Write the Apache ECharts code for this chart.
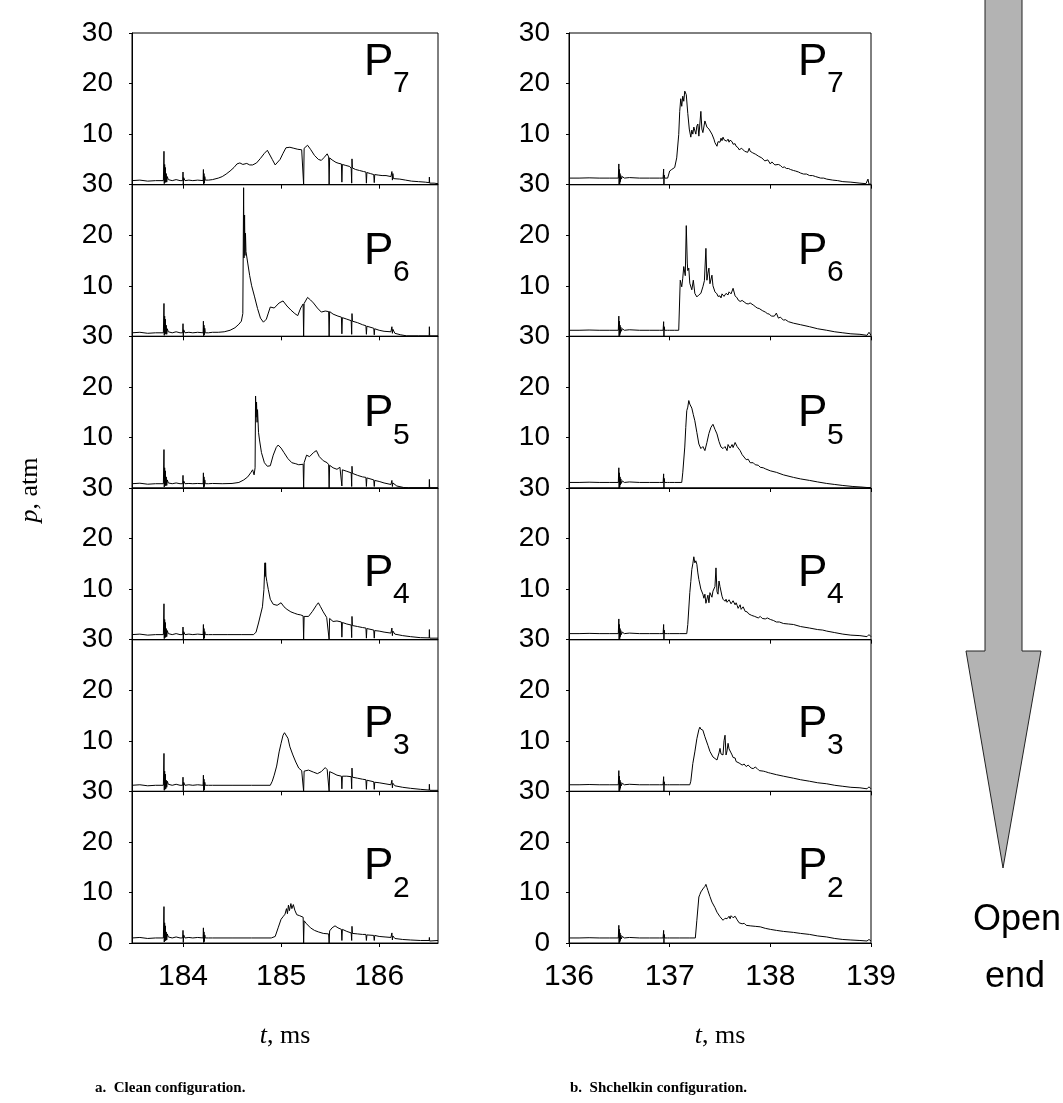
<!DOCTYPE html>
<html>
<head>
<meta charset="utf-8">
<script src="https://cdn.jsdelivr.net/npm/echarts@6/dist/echarts.min.js"></script>
<style>
  html, body { margin: 0; padding: 0; background: #fff; }
  #chart { width: 1063px; height: 1103px; }
</style>
</head>
<body>
<div id="chart"></div>
<script>
// pressure traces, [t (ms), p (atm)]
// a. clean configuration
const cleanP7 = [[183.48,0.8],[183.56,0.9],[183.64,0.7],[183.72,0.8],[183.80,0.8],[183.806,6.6],[183.809,0.2],[183.813,4],[183.816,0.4],[183.82,3.4],[183.824,0.5],[183.829,2.2],[183.834,0.5],[183.84,1.6],[183.85,1.0],[183.87,1.3],[183.89,0.8],[183.93,1.0],[183.97,0.8],[183.997,0.8],[184.0,2.5],[184.003,0.1],[184.007,1.4],[184.02,0.8],[184.06,0.9],[184.10,0.8],[184.15,0.9],[184.205,0.8],[184.208,3.0],[184.211,0.1],[184.214,2.2],[184.218,0.3],[184.222,1.6],[184.227,0.9],[184.26,0.9],
  [184.30,1.0],[184.36,1.3],[184.40,1.6],[184.44,2.1],[184.48,2.7],[184.52,3.4],[184.55,4.1],[184.58,4.3],[184.61,4.0],[184.65,4.2],[184.68,3.9],[184.71,3.9],[184.75,4.3],[184.79,5.2],[184.83,6.2],[184.86,6.8],[184.88,6.5],[184.91,5.0],[184.94,3.9],[184.96,4.0],[184.99,5.0],[185.02,6.2],[185.05,7.3],[185.09,7.4],[185.13,7.2],[185.17,7.0],[185.21,6.9],[185.225,6.8],[185.23,0],[185.235,7.2],[185.27,7.8],[185.30,7.0],[185.34,5.8],[185.38,5.0],[185.41,4.8],[185.44,5.4],[185.47,6.1],[185.485,5.5],[185.49,0],[185.495,5.3],[185.52,4.9],[185.56,4.4],[185.59,4.2],[185.615,4.1],[185.62,0.5],[185.625,4.0],[185.66,3.8],[185.70,3.6],[185.715,3.2],[185.72,0.3],[185.723,5.1],[185.727,3.3],[185.76,3.0],[185.80,2.8],[185.84,2.6],[185.865,2.5],[185.87,0.3],[185.875,2.4],[185.91,2.2],[185.945,2.0],[185.95,0.4],[185.955,2.0],[185.99,1.9],[186.03,1.8],[186.07,1.8],[186.12,1.6],[186.13,2.6],[186.135,0.9],[186.14,2.2],[186.145,1.2],[186.16,1.3],[186.21,1.1],[186.27,0.9],[186.33,0.7],[186.40,0.6],[186.47,0.5],[186.51,0.4],[186.512,1.5],[186.515,0.3],[186.56,0.3],[186.6,0.2]];
const cleanP6 = [[183.48,0.7],[183.56,0.8],[183.64,0.6],[183.72,0.7],[183.80,0.7],[183.806,6.5],[183.809,0.2],[183.813,4],[183.816,0.4],[183.82,3.4],[183.824,0.5],[183.829,2.2],[183.834,0.4],[183.84,1.5],[183.85,0.9],[183.87,1.2],[183.89,0.7],[183.93,0.9],[183.97,0.7],[183.997,0.7],[184.0,2.5],[184.003,0.1],[184.007,1.3],[184.02,0.7],[184.06,0.8],[184.10,0.7],[184.15,0.8],[184.205,0.7],[184.208,3.0],[184.211,0.1],[184.214,2.2],[184.218,0.3],[184.222,1.6],[184.227,0.7],[184.26,0.7],
  [184.30,0.8],[184.36,0.8],[184.42,0.9],[184.48,1.2],[184.53,1.7],[184.57,2.4],[184.595,3.0],[184.61,4.5],[184.618,29.4],[184.622,15.5],[184.628,24],[184.632,16],[184.637,20.4],[184.642,16.8],[184.65,17.0],[184.66,14.5],[184.68,12.0],[184.70,10.0],[184.73,7.8],[184.76,5.5],[184.79,3.6],[184.82,2.8],[184.85,3.4],[184.87,4.6],[184.89,5.8],[184.91,6.0],[184.93,5.6],[184.95,5.9],[184.98,6.6],[185.02,7.0],[185.06,6.0],[185.10,5.2],[185.14,4.5],[185.17,4.1],[185.20,5.6],[185.225,6.4],[185.23,0],[185.235,6.5],[185.27,7.7],[185.30,7.2],[185.33,6.6],[185.37,5.6],[185.41,4.8],[185.45,5.0],[185.485,4.9],[185.49,0],[185.495,4.9],[185.53,4.4],[185.58,4.0],[185.615,3.8],[185.62,0.5],[185.625,3.7],[185.67,3.4],[185.715,3.1],[185.72,0.4],[185.723,4.5],[185.727,3.0],[185.78,2.7],[185.83,2.3],[185.865,2.1],[185.87,0.4],[185.875,2.0],[185.945,1.6],[185.95,0.3],[185.955,1.5],[186.0,1.2],[186.05,1.0],[186.12,0.9],[186.13,1.9],[186.135,0.6],[186.14,1.4],[186.16,0.6],[186.22,0.3],[186.28,0.1],[186.40,0.1],[186.51,0.1],[186.512,1.9],[186.515,0.1],[186.6,0.1]];
const cleanP5 = [[183.48,0.85],[183.56,0.95],[183.64,0.75],[183.72,0.85],[183.80,0.85],[183.806,7.6],[183.809,0.2],[183.813,4],[183.816,0.4],[183.82,3.4],[183.824,0.5],[183.829,2.2],[183.834,0.5],[183.84,1.6],[183.85,1.0],[183.87,1.3],[183.89,0.85],[183.93,1.0],[183.97,0.85],[183.997,0.85],[184.0,2.5],[184.003,0.1],[184.007,1.4],[184.02,0.85],[184.06,0.9],[184.10,0.85],[184.15,0.9],[184.205,0.85],[184.208,3.0],[184.211,0.1],[184.214,2.2],[184.218,0.3],[184.222,1.6],[184.227,0.85],[184.26,0.85],
  [184.30,0.9],[184.40,0.85],[184.50,0.9],[184.57,1.1],[184.62,1.6],[184.66,2.2],[184.69,3.0],[184.71,3.6],[184.725,2.6],[184.735,4.0],[184.74,18.2],[184.745,14],[184.75,17.0],[184.755,13.0],[184.76,15.5],[184.77,11.0],[184.78,9.5],[184.80,7.0],[184.83,5.0],[184.86,4.3],[184.89,4.4],[184.92,6.5],[184.95,8.0],[184.97,8.5],[185.00,7.9],[185.03,7.0],[185.07,5.8],[185.11,5.0],[185.15,4.8],[185.18,4.6],[185.225,4.7],[185.23,0],[185.235,5.0],[185.26,6.5],[185.29,6.2],[185.33,7.0],[185.36,7.4],[185.39,6.2],[185.43,5.4],[185.47,5.0],[185.485,4.6],[185.49,0],[185.495,4.5],[185.53,4.0],[185.57,3.7],[185.60,4.1],[185.615,3.8],[185.62,0.4],[185.625,3.6],[185.67,3.3],[185.715,3.0],[185.72,0.3],[185.723,4.3],[185.727,2.9],[185.78,2.5],[185.83,2.2],[185.865,2.1],[185.87,0.3],[185.875,2.0],[185.945,1.6],[185.95,0.3],[185.955,1.5],[186.0,1.3],[186.05,1.0],[186.12,0.7],[186.13,1.5],[186.135,0.3],[186.14,1.0],[186.18,0.4],[186.25,0.1],[186.30,0.05],[186.51,0.05],[186.512,1.7],[186.515,0.05],[186.6,0.05]];
const cleanP4 = [[183.48,1.0],[183.56,1.1],[183.64,0.9],[183.72,1.0],[183.80,1.0],[183.806,7.1],[183.809,0.2],[183.813,4],[183.816,0.4],[183.82,3.4],[183.824,0.5],[183.829,2.2],[183.834,0.6],[183.84,1.8],[183.85,1.2],[183.87,1.5],[183.89,1.0],[183.93,1.2],[183.97,1.0],[183.997,1.0],[184.0,2.5],[184.003,0.1],[184.007,1.6],[184.02,1.0],[184.06,1.1],[184.10,1.0],[184.15,1.1],[184.205,1.0],[184.208,3.0],[184.211,0.1],[184.214,2.2],[184.218,0.3],[184.222,1.6],[184.227,1.0],[184.26,1.0],
  [184.30,1.0],[184.45,1.0],[184.60,1.0],[184.72,1.0],[184.745,1.5],[184.77,3.3],[184.79,3.6],[184.81,6.5],[184.825,9.9],[184.835,15.2],[184.838,12.5],[184.842,15.2],[184.846,12.6],[184.855,11.5],[184.87,9.9],[184.89,8.0],[184.92,7.0],[184.96,6.8],[185.00,7.3],[185.03,6.5],[185.06,6.0],[185.10,5.5],[185.14,5.2],[185.17,5.0],[185.20,4.9],[185.225,4.7],[185.23,0],[185.235,4.6],[185.28,4.6],[185.32,5.6],[185.36,6.8],[185.38,7.3],[185.40,6.6],[185.43,5.5],[185.465,4.4],[185.485,4.3],[185.49,0],[185.495,4.2],[185.53,3.6],[185.57,3.7],[185.615,3.5],[185.62,0.5],[185.625,3.4],[185.67,3.1],[185.715,2.9],[185.72,0.4],[185.723,4.6],[185.727,2.8],[185.78,2.6],[185.83,2.4],[185.865,2.3],[185.87,0.3],[185.875,2.2],[185.945,1.9],[185.95,0.3],[185.955,1.8],[186.0,1.7],[186.05,1.5],[186.12,1.3],[186.13,2.3],[186.135,0.8],[186.14,1.7],[186.16,1.1],[186.24,0.8],[186.32,0.6],[186.42,0.4],[186.51,0.35],[186.512,2.0],[186.515,0.3],[186.6,0.3]];
const cleanP3 = [[183.48,1.2],[183.56,1.3],[183.64,1.1],[183.72,1.2],[183.80,1.2],[183.806,7.5],[183.809,0.2],[183.813,4],[183.816,0.4],[183.82,3.4],[183.824,0.5],[183.829,2.2],[183.834,0.8],[183.84,2.0],[183.85,1.4],[183.87,1.7],[183.89,1.2],[183.93,1.4],[183.97,1.2],[183.997,1.2],[184.0,2.8],[184.003,0.1],[184.007,1.8],[184.02,1.2],[184.06,1.3],[184.10,1.2],[184.15,1.3],[184.205,1.2],[184.208,3.2],[184.211,0.1],[184.214,2.4],[184.218,0.3],[184.222,1.8],[184.227,1.2],[184.26,1.2],
  [184.30,1.2],[184.50,1.2],[184.70,1.2],[184.89,1.2],[184.91,2.0],[184.93,3.2],[184.955,5.0],[184.98,7.8],[185.00,9.5],[185.02,11.1],[185.035,11.6],[185.05,11.4],[185.07,10.5],[185.09,8.8],[185.12,7.2],[185.15,5.8],[185.18,4.6],[185.21,4.1],[185.225,3.9],[185.23,0],[185.235,4.0],[185.28,4.2],[185.33,3.8],[185.37,3.5],[185.41,3.9],[185.45,4.7],[185.47,4.3],[185.485,4.0],[185.49,0],[185.495,3.9],[185.53,3.6],[185.57,3.2],[185.615,3.0],[185.62,0.5],[185.625,3.0],[185.67,3.0],[185.715,2.9],[185.72,0.5],[185.723,4.6],[185.727,2.8],[185.78,2.6],[185.83,2.4],[185.865,2.3],[185.87,0.4],[185.875,2.2],[185.945,1.9],[185.95,0.4],[185.955,1.8],[186.0,1.7],[186.06,1.5],[186.12,1.3],[186.13,2.2],[186.135,0.7],[186.14,1.6],[186.16,1.1],[186.24,0.8],[186.32,0.6],[186.42,0.4],[186.51,0.25],[186.512,1.4],[186.515,0.2],[186.6,0.2]];
const cleanP2 = [[183.48,1.0],[183.56,1.1],[183.64,0.9],[183.72,1.0],[183.80,1.0],[183.806,7.2],[183.809,0.2],[183.813,4],[183.816,0.4],[183.82,3.4],[183.824,0.5],[183.829,2.2],[183.834,0.6],[183.84,1.8],[183.85,1.2],[183.87,1.5],[183.89,1.0],[183.93,1.2],[183.97,1.0],[183.997,1.0],[184.0,2.5],[184.003,0.1],[184.007,1.6],[184.02,1.0],[184.06,1.1],[184.10,1.0],[184.15,1.1],[184.205,1.0],[184.208,3.0],[184.211,0.1],[184.214,2.2],[184.218,0.3],[184.222,1.6],[184.227,1.0],[184.26,1.0],
  [184.30,1.0],[184.50,1.0],[184.70,1.0],[184.90,1.0],[184.94,1.3],[184.97,3.0],[185.00,4.7],[185.02,5.2],[185.04,5.7],[185.055,6.8],[185.065,5.8],[185.075,7.5],[185.085,6.4],[185.10,7.8],[185.11,6.8],[185.125,7.6],[185.14,6.5],[185.16,5.6],[185.19,5.4],[185.225,5.1],[185.23,0],[185.235,4.4],[185.26,3.8],[185.30,3.0],[185.34,2.5],[185.38,2.2],[185.43,1.9],[185.485,1.8],[185.49,0],[185.495,2.4],[185.52,3.0],[185.55,3.4],[185.58,3.0],[185.615,2.7],[185.62,0.5],[185.625,2.7],[185.67,2.3],[185.715,2.0],[185.72,0.5],[185.723,3.3],[185.727,1.9],[185.78,1.8],[185.83,1.7],[185.865,1.7],[185.87,0.5],[185.875,1.6],[185.945,1.5],[185.95,0.5],[185.955,1.5],[186.0,1.3],[186.06,1.2],[186.12,1.1],[186.13,2.0],[186.135,0.6],[186.14,1.4],[186.16,0.9],[186.24,0.7],[186.32,0.6],[186.42,0.5],[186.51,0.5],[186.512,1.1],[186.515,0.4],[186.6,0.5]];

// b. Shchelkin configuration
const shchP7 = [[136,1.3],[136.1,1.3],[136.2,1.35],[136.3,1.3],[136.4,1.3],[136.49,1.3],[136.495,4.1],[136.498,0],[136.501,3],[136.504,0.2],[136.507,2.2],[136.51,0.6],[136.515,1.8],[136.52,1.1],[136.53,1.6],[136.55,1.3],[136.6,1.4],[136.7,1.3],[136.8,1.3],[136.9,1.3],[136.935,1.3],[136.94,3.1],[136.943,0],[136.946,1.9],[136.95,1.3],[136.98,1.3],
  [136.99,1.5],[137.00,2.7],[137.02,3.0],[137.05,3.4],[137.07,5.3],[137.09,9.9],[137.10,14.5],[137.11,17.0],[137.12,15.5],[137.13,17.5],[137.14,16.5],[137.15,18.5],[137.165,17.8],[137.18,14.1],[137.195,11.0],[137.21,9.4],[137.22,10.8],[137.23,10.0],[137.24,11.4],[137.26,10.0],[137.27,11.6],[137.28,12.0],[137.29,9.6],[137.31,14.5],[137.32,11.0],[137.33,10.3],[137.35,12.6],[137.37,11.4],[137.39,11.0],[137.42,10.0],[137.44,9.0],[137.45,8.3],[137.46,8.1],[137.47,7.6],[137.48,8.5],[137.49,8.8],[137.50,8.4],[137.51,9.2],[137.52,8.7],[137.53,9.4],[137.54,8.9],[137.55,9.0],[137.565,8.6],[137.58,9.0],[137.59,8.4],[137.60,8.8],[137.62,8.5],[137.63,8.0],[137.65,8.1],[137.66,7.6],[137.68,7.3],[137.69,6.9],[137.70,6.8],[137.715,7.2],[137.73,7.0],[137.745,6.6],[137.76,6.8],[137.775,6.4],[137.79,7.2],[137.80,6.6],[137.81,6.9],[137.825,6.3],[137.84,6.3],[137.855,6.0],[137.87,6.1],[137.885,5.6],[137.90,5.8],[137.915,5.3],[137.93,5.2],[137.945,4.7],[137.96,4.6],[137.975,4.9],[138.00,4.1],[138.015,4.5],[138.03,4.4],[138.045,3.9],[138.06,3.9],[138.08,4.0],[138.10,3.8],[138.12,3.4],[138.14,3.5],[138.16,3.2],[138.18,3.2],[138.20,3.0],[138.23,2.8],[138.25,2.7],[138.28,2.5],[138.30,2.3],[138.33,2.1],[138.36,2.1],[138.39,1.8],[138.42,1.8],[138.45,1.6],[138.50,1.3],[138.53,1.3],[138.56,1.1],[138.62,0.9],[138.67,0.8],[138.72,0.6],[138.80,0.5],[138.89,0.3],[138.95,0.2],[138.97,1.1],[138.98,0.1],[139.0,0.1]];
const shchP6 = [[136,1.2],[136.1,1.2],[136.2,1.25],[136.3,1.2],[136.4,1.2],[136.49,1.2],[136.495,4.0],[136.498,0],[136.501,3],[136.504,0.2],[136.507,2.2],[136.51,0.6],[136.515,1.8],[136.52,1.0],[136.53,1.5],[136.55,1.2],[136.6,1.3],[136.7,1.2],[136.8,1.2],[136.9,1.2],[136.935,1.2],[136.94,2.9],[136.943,0],[136.946,1.9],[136.95,1.2],[136.98,1.2],
  [137.00,1.2],[137.05,1.2],[137.09,1.2],[137.10,1.3],[137.105,11.1],[137.12,9.8],[137.13,11.5],[137.14,13.8],[137.155,12.0],[137.165,21.9],[137.175,14.5],[137.18,13.0],[137.19,13.5],[137.20,10.5],[137.22,9.2],[137.235,11.1],[137.25,8.5],[137.27,7.8],[137.29,8.2],[137.31,8.5],[137.33,9.8],[137.345,11.0],[137.36,17.4],[137.37,11.1],[137.38,12.5],[137.39,13.5],[137.40,10.4],[137.42,12.1],[137.43,10.0],[137.45,8.8],[137.47,8.4],[137.48,7.9],[137.50,8.0],[137.51,7.6],[137.52,8.4],[137.54,7.9],[137.56,8.5],[137.58,8.2],[137.59,8.8],[137.61,8.4],[137.63,9.5],[137.65,8.0],[137.67,7.6],[137.68,7.2],[137.70,6.9],[137.72,7.1],[137.74,6.8],[137.76,6.5],[137.78,6.4],[137.80,6.6],[137.83,6.2],[137.85,5.9],[137.87,5.6],[137.89,5.5],[137.90,5.2],[137.92,5.1],[137.93,4.9],[137.95,4.8],[137.97,4.5],[137.99,4.4],[138.01,4.0],[138.04,4.0],[138.06,4.6],[138.08,3.6],[138.10,3.8],[138.13,3.2],[138.15,3.3],[138.18,2.9],[138.23,2.6],[138.30,2.3],[138.39,1.9],[138.47,1.5],[138.56,1.2],[138.64,0.9],[138.72,0.7],[138.80,0.5],[138.89,0.4],[138.96,0.2],[138.98,0.8],[139.0,0.2]];
const shchP5 = [[136,1.1],[136.1,1.1],[136.2,1.15],[136.3,1.1],[136.4,1.1],[136.49,1.1],[136.495,4.0],[136.498,0],[136.501,3],[136.504,0.2],[136.507,2.2],[136.51,0.6],[136.515,1.8],[136.52,0.9],[136.53,1.4],[136.55,1.1],[136.6,1.2],[136.7,1.1],[136.8,1.1],[136.9,1.1],[136.935,1.1],[136.94,2.8],[136.943,0],[136.946,1.9],[136.95,1.1],[136.98,1.1],
  [137.00,1.1],[137.05,1.1],[137.12,1.1],[137.13,3.0],[137.15,8.1],[137.16,12.0],[137.17,15.3],[137.18,16.0],[137.19,17.3],[137.20,16.6],[137.21,16.8],[137.22,15.8],[137.235,14.5],[137.25,13.3],[137.27,11.0],[137.29,8.7],[137.31,7.8],[137.33,8.2],[137.35,7.4],[137.37,9.0],[137.39,10.8],[137.41,12.0],[137.43,12.6],[137.45,11.6],[137.47,10.7],[137.49,9.2],[137.51,8.1],[137.53,7.8],[137.55,8.2],[137.57,7.4],[137.58,8.6],[137.60,7.9],[137.62,8.6],[137.63,8.0],[137.65,9.0],[137.67,8.2],[137.70,7.4],[137.72,6.6],[137.73,6.8],[137.76,5.6],[137.78,5.7],[137.80,5.0],[137.83,5.0],[137.85,4.6],[137.88,4.5],[137.90,4.1],[137.93,4.0],[137.95,3.8],[138.00,3.4],[138.06,3.1],[138.13,2.6],[138.23,2.1],[138.30,1.8],[138.39,1.5],[138.47,1.2],[138.56,0.9],[138.64,0.7],[138.72,0.5],[138.82,0.3],[138.90,0.2],[138.96,0.1],[139.0,0.1]];
const shchP4 = [[136,1.2],[136.1,1.2],[136.2,1.25],[136.3,1.2],[136.4,1.2],[136.49,1.2],[136.495,4.1],[136.498,0],[136.501,3],[136.504,0.2],[136.507,2.2],[136.51,0.6],[136.515,1.8],[136.52,1.0],[136.53,1.5],[136.55,1.2],[136.6,1.3],[136.7,1.2],[136.8,1.2],[136.9,1.2],[136.935,1.2],[136.94,3.0],[136.943,0],[136.946,1.9],[136.95,1.2],[136.98,1.2],
  [137.00,1.2],[137.10,1.2],[137.17,1.2],[137.18,3.0],[137.20,9.3],[137.21,11.5],[137.22,13.9],[137.23,15.0],[137.24,16.4],[137.25,15.2],[137.26,15.6],[137.27,14.9],[137.28,13.2],[137.29,11.9],[137.31,10.0],[137.33,9.0],[137.34,8.2],[137.35,9.0],[137.36,7.2],[137.37,7.0],[137.38,8.8],[137.39,7.3],[137.40,9.3],[137.42,8.4],[137.43,9.6],[137.45,10.5],[137.46,14.2],[137.47,9.5],[137.48,9.0],[137.49,11.6],[137.50,10.5],[137.52,8.6],[137.53,8.0],[137.54,8.3],[137.55,7.6],[137.56,8.0],[137.57,7.4],[137.58,7.2],[137.59,7.9],[137.60,7.8],[137.61,7.1],[137.62,7.0],[137.63,7.7],[137.64,7.6],[137.65,6.9],[137.66,7.3],[137.67,6.8],[137.68,6.2],[137.69,6.3],[137.70,6.9],[137.71,6.0],[137.72,5.9],[137.73,6.5],[137.74,6.4],[137.75,5.6],[137.76,5.9],[137.77,5.5],[137.785,5.1],[137.80,5.2],[137.815,4.8],[137.83,5.0],[137.845,4.6],[137.86,4.6],[137.88,4.3],[137.90,4.6],[137.92,4.2],[137.95,4.1],[137.97,4.3],[138.00,4.0],[138.03,3.8],[138.06,3.5],[138.09,3.5],[138.13,3.2],[138.18,3.1],[138.23,3.0],[138.30,2.6],[138.39,2.3],[138.47,2.0],[138.52,1.9],[138.56,1.7],[138.64,1.4],[138.72,1.1],[138.80,0.9],[138.89,0.8],[138.96,0.6],[138.98,1.0],[139.0,0.6]];
const shchP3 = [[136,1.3],[136.1,1.3],[136.2,1.35],[136.3,1.3],[136.4,1.3],[136.49,1.3],[136.495,4.1],[136.498,0],[136.501,3],[136.504,0.2],[136.507,2.2],[136.51,0.6],[136.515,1.8],[136.52,1.1],[136.53,1.6],[136.55,1.3],[136.6,1.4],[136.7,1.3],[136.8,1.3],[136.9,1.3],[136.935,1.3],[136.94,2.9],[136.943,0],[136.946,1.9],[136.95,1.3],[136.98,1.3],
  [137.00,1.3],[137.10,1.3],[137.20,1.3],[137.21,2.0],[137.23,5.5],[137.25,7.8],[137.27,10.4],[137.29,12.2],[137.30,12.7],[137.31,12.3],[137.33,12.1],[137.35,10.8],[137.38,9.1],[137.40,7.9],[137.43,6.8],[137.47,6.2],[137.49,7.6],[137.50,8.5],[137.51,7.4],[137.53,7.2],[137.54,10.0],[137.55,11.1],[137.56,7.2],[137.57,8.0],[137.58,9.5],[137.59,8.4],[137.61,7.6],[137.62,7.2],[137.63,6.7],[137.64,6.4],[137.65,6.6],[137.66,5.9],[137.675,6.2],[137.69,5.6],[137.705,5.8],[137.72,5.2],[137.74,5.4],[137.76,4.9],[137.78,5.2],[137.79,5.0],[137.81,4.6],[137.83,4.5],[137.85,4.8],[137.87,4.5],[137.89,4.1],[137.90,4.3],[137.93,4.0],[137.95,3.9],[137.98,3.7],[138.00,3.6],[138.06,3.3],[138.13,3.0],[138.23,2.6],[138.30,2.3],[138.39,2.0],[138.47,1.7],[138.56,1.5],[138.64,1.2],[138.72,1.0],[138.80,0.8],[138.89,0.7],[138.96,0.5],[138.98,0.9],[139.0,0.5]];
const shchP2 = [[136,1.0],[136.1,1.0],[136.2,1.05],[136.3,1.0],[136.4,1.0],[136.49,1.0],[136.495,3.5],[136.498,0],[136.501,2.7],[136.504,0.2],[136.507,2.0],[136.51,0.5],[136.515,1.6],[136.52,0.8],[136.53,1.3],[136.55,1.0],[136.6,1.1],[136.7,1.0],[136.8,1.0],[136.9,1.0],[136.935,1.0],[136.94,2.5],[136.943,0],[136.946,1.7],[136.95,1.0],[136.98,1.0],
  [137.00,1.0],[137.10,1.0],[137.20,1.0],[137.255,1.0],[137.27,4.5],[137.29,9.1],[137.30,9.6],[137.31,10.1],[137.32,10.0],[137.33,10.7],[137.34,10.4],[137.35,11.2],[137.36,11.6],[137.37,11.0],[137.38,10.4],[137.40,9.2],[137.42,8.1],[137.45,7.0],[137.47,6.1],[137.50,5.2],[137.53,4.5],[137.55,4.9],[137.57,4.8],[137.59,5.3],[137.60,4.8],[137.61,5.4],[137.63,5.0],[137.65,5.3],[137.67,4.6],[137.69,4.0],[137.72,3.8],[137.74,3.9],[137.76,3.5],[137.80,3.4],[137.85,3.3],[137.90,3.2],[137.95,2.9],[138.00,2.7],[138.06,2.5],[138.13,2.3],[138.23,2.1],[138.30,1.9],[138.39,1.7],[138.47,1.4],[138.56,1.2],[138.64,0.9],[138.72,0.7],[138.80,0.6],[138.89,0.5],[138.96,0.4],[138.98,0.7],[139.0,0.4]];

const cleanTraces = [cleanP7, cleanP6, cleanP5, cleanP4, cleanP3, cleanP2];
const shchTraces = [shchP7, shchP6, shchP5, shchP4, shchP3, shchP2];
const gaugeNames = ['7', '6', '5', '4', '3', '2'];
const cleanTicks = [184, 185, 186];
const shchTicks = [136, 137, 138, 139];

const SANS = 'Liberation Sans, Arial, sans-serif';
const SERIF = 'Liberation Serif, Times New Roman, serif';

const chart = echarts.init(document.getElementById('chart'));

const cols = [
  { left: 132, width: 306, min: 183.48, max: 186.6, ticks: cleanTicks, traces: cleanTraces, px: 364 },
  { left: 569, width: 302, min: 136, max: 139, ticks: shchTicks, traces: shchTraces, px: 798 }
];
const rowTop = 33, rowH = 151.67;
const labelOff = [14, 51, 62, 70, 69, 60];

const grid = [], xAxis = [], yAxis = [], series = [], graphic = [];

cols.forEach(function (col, c) {
  for (let r = 0; r < 6; r++) {
    const idx = grid.length;
    const top = rowTop + r * rowH;
    grid.push({ left: col.left, top: top, width: col.width, height: rowH, show: true, borderColor: '#000', borderWidth: 1 });
    xAxis.push({
      type: 'value', gridIndex: idx, min: col.min, max: col.max,
      axisLine: { show: true, onZero: false, lineStyle: { color: '#000', width: 1 } },
      axisTick: { show: true, inside: false, length: 4, customValues: col.ticks, lineStyle: { color: '#000' } },
      axisLabel: { show: r === 5, customValues: col.ticks, color: '#000', fontSize: 30, fontFamily: SANS, margin: 19 },
      splitLine: { show: false }
    });
    yAxis.push({
      type: 'value', gridIndex: idx, min: 0, max: 30, interval: 10,
      axisLine: { show: true, lineStyle: { color: '#000', width: 1 } },
      axisTick: { show: true, inside: false, length: 3, lineStyle: { color: '#000' } },
      axisLabel: {
        color: '#000', fontSize: 28, fontFamily: SANS, margin: 19,
        formatter: function (v) { return (v === 0 && r < 5) ? '' : String(v); }
      },
      splitLine: { show: false }
    });
    series.push({
      type: 'line', xAxisIndex: idx, yAxisIndex: idx, data: col.traces[r],
      showSymbol: false, symbol: 'none', silent: true,
      lineStyle: { color: '#000', width: 1 }
    });
    const ly = top + labelOff[r];
    graphic.push({ type: 'text', x: col.px, y: ly + 16, style: { text: 'P', fontSize: 44, fontFamily: SANS, fill: '#000', align: 'left', verticalAlign: 'middle' } });
    graphic.push({ type: 'text', x: col.px + 29, y: ly + 37, style: { text: gaugeNames[r], fontSize: 30, fontFamily: SANS, fill: '#000', align: 'left', verticalAlign: 'middle' } });
  }
});

// axis titles
const titleRich = {
  i: { fontFamily: SERIF, fontStyle: 'italic', fontSize: 26, fill: '#000' },
  n: { fontFamily: SERIF, fontSize: 26, fill: '#000' }
};
graphic.push({ type: 'text', x: 30, y: 490, rotation: Math.PI / 2, style: { text: '{i|p}{n|, atm}', rich: titleRich, align: 'center', verticalAlign: 'middle' } });
graphic.push({ type: 'text', x: 285, y: 1036, style: { text: '{i|t}{n|, ms}', rich: titleRich, align: 'center', verticalAlign: 'middle' } });
graphic.push({ type: 'text', x: 720, y: 1036, style: { text: '{i|t}{n|, ms}', rich: titleRich, align: 'center', verticalAlign: 'middle' } });

// captions
graphic.push({ type: 'text', x: 95, y: 1088, style: { text: 'a.  Clean configuration.', fontFamily: SERIF, fontWeight: 'bold', fontSize: 15, fill: '#000', verticalAlign: 'middle' } });
graphic.push({ type: 'text', x: 570, y: 1088, style: { text: 'b.  Shchelkin configuration.', fontFamily: SERIF, fontWeight: 'bold', fontSize: 15, fill: '#000', verticalAlign: 'middle' } });

// open-end arrow
graphic.push({
  type: 'polygon',
  shape: { points: [[985, -2], [1022, -2], [1022, 651], [1041, 651], [1003, 868], [966, 651], [985, 651]] },
  style: { fill: '#b3b3b3', stroke: '#222', lineWidth: 1 }
});
graphic.push({ type: 'text', x: 1017, y: 920, style: { text: 'Open', fontSize: 36, fontFamily: SANS, fill: '#000', align: 'center', verticalAlign: 'middle' } });
graphic.push({ type: 'text', x: 1015, y: 977, style: { text: 'end', fontSize: 36, fontFamily: SANS, fill: '#000', align: 'center', verticalAlign: 'middle' } });

chart.setOption({
  animation: false,
  backgroundColor: '#fff',
  grid: grid,
  xAxis: xAxis,
  yAxis: yAxis,
  series: series,
  graphic: graphic
});
</script>
</body>
</html>
